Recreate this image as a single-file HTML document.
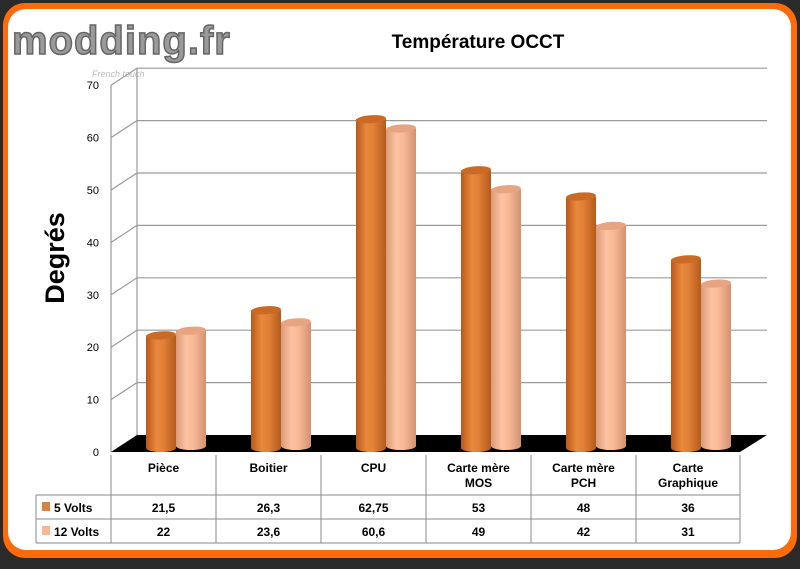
<!DOCTYPE html>
<html><head><meta charset="utf-8">
<style>
html,body{margin:0;padding:0;background:#2a2a2a;}
body{width:800px;height:564px;overflow:hidden;font-family:"Liberation Sans",sans-serif;}
</style></head>
<body>
<svg id="chart" width="800" height="564" xmlns="http://www.w3.org/2000/svg">
<defs>
<linearGradient id="gO" x1="0" x2="1" y1="0" y2="0">
<stop offset="0" stop-color="#b9581a"/><stop offset="0.35" stop-color="#e8893d"/><stop offset="0.6" stop-color="#e07f35"/><stop offset="1" stop-color="#b45a1c"/></linearGradient>
<linearGradient id="gP" x1="0" x2="1" y1="0" y2="0">
<stop offset="0" stop-color="#d99a78"/><stop offset="0.35" stop-color="#fcc3a2"/><stop offset="0.6" stop-color="#f8b895"/><stop offset="1" stop-color="#d3916f"/></linearGradient>
</defs>
<rect x="3" y="3" width="794" height="555" rx="22" fill="#ff6a0a"/>
<rect x="8" y="9" width="783" height="541" rx="18" fill="#ffffff"/>
<text x="12" y="54" font-size="40" font-weight="bold" fill="#9a9a9a" stroke="#666" stroke-width="1.5" font-family="'Liberation Sans',sans-serif" letter-spacing="1">modding.fr</text>
<text x="92" y="77" font-size="9" font-style="italic" fill="#bbb">French touch</text>
<text x="478" y="48" font-size="19" font-weight="bold" text-anchor="middle" fill="#000">Température OCCT</text>
<text transform="translate(64,258) rotate(-90)" font-size="27" font-weight="bold" text-anchor="middle" fill="#000">Degrés</text>
<g id="grid"></g>
<g id="floor"></g>
<g id="bars"></g>
<g id="table"></g>
</svg>
<script>
const categories=["Pièce","Boitier","CPU","Carte mère|MOS","Carte mère|PCH","Carte|Graphique"];
const volts5=[21.5,26.3,62.75,53,48,36];
const volts12=[22,23.6,60.6,49,42,31];
const labels5=["21,5","26,3","62,75","53","48","36"];
const labels12=["22","23,6","60,6","49","42","31"];
const yTicks=[0,10,20,30,40,50,60,70];
const seriesNames=["5 Volts","12 Volts"];

const NS="http://www.w3.org/2000/svg";
const PPU=5.24, Y0=452, DX=26, DY=17;
const yScale=v=>Y0-v*PPU;
const xCenter=i=>163.5+105*i;
function el(t,a,p){const e=document.createElementNS(NS,t);for(const k in a)e.setAttribute(k,a[k]);p.appendChild(e);return e;}

const grid=document.getElementById('grid');
yTicks.forEach(v=>{
  const y=yScale(v);
  if(v>0){
    const g=el('polyline',{points:`111,${y} ${111+DX},${y-DY} 767,${y-DY}`,fill:'none',stroke:'#9a9a9a','stroke-width':1.2},grid);
    
    
  }
  const t=el('text',{x:99,y:y+4,'font-size':11,'text-anchor':'end',fill:'#000'},grid);
  t.textContent=v;
  
  
});
const ax=el('line',{x1:111,y1:yScale(70),x2:111,y2:Y0,stroke:'#9a9a9a','stroke-width':1.2},grid);


const ax2=el('line',{x1:137,y1:yScale(70)-DY,x2:137,y2:Y0-DY,stroke:'#9a9a9a','stroke-width':1.2},grid);



const floor=el('polygon',{points:`111,${Y0} 740,${Y0} 767,${Y0-DY} 137,${Y0-DY}`,fill:'#000'},document.getElementById('floor'));



const bars=document.getElementById('bars');
function cyl(cx,base,v,fill,top,name){
  const g=el('g',{},bars);
  
  
  const r=15, ry=4, yt=base-v*PPU;
  el('path',{d:`M${cx-r},${yt} L${cx-r},${base} A${r},${ry} 0 0 0 ${cx+r},${base} L${cx+r},${yt} Z`,fill:fill},g);
  el('ellipse',{cx:cx,cy:yt,rx:r,ry:ry,fill:top,transform:`rotate(-4 ${cx} ${yt})`},g);
}
categories.forEach((c,i)=>{
  cyl(xCenter(i)-2.5,448,volts5[i],'url(#gO)','#c96a25','bar-5v-'+i);
  cyl(xCenter(i)+27.5,446,volts12[i],'url(#gP)','#e6a482','bar-12v-'+i);
});

const tb=document.getElementById('table');
const cols=[111,216,321,426,531,636,740];
const ln=(x1,y1,x2,y2)=>el('line',{x1,y1,x2,y2,stroke:'#8a8a8a','stroke-width':1},tb);
cols.forEach(x=>ln(x,455,x,543));
ln(36,495,740,495);ln(36,519,740,519);ln(36,543,740,543);ln(36,495,36,543);
categories.forEach((c,i)=>{
  const cx=(cols[i]+cols[i+1])/2;
  c.split('|').forEach((p,j)=>{
    const t=el('text',{x:cx,y:472+j*15,'font-size':12,'font-weight':'bold','text-anchor':'middle'},tb);
    t.textContent=p;
    
    
  });
  [labels5,labels12].forEach((arr,k)=>{
    const t=el('text',{x:cx,y:512+k*24,'font-size':12,'font-weight':'bold','text-anchor':'middle'},tb);
    t.textContent=arr[i];
    
    
  });
});
seriesNames.forEach((n,k)=>{
  const r=el('rect',{x:42,y:502+k*24,width:8,height:9,fill:k?'#f6b794':'#d9823f'},tb);
  
  
  const t=el('text',{x:54,y:512+k*24,'font-size':12,'font-weight':'bold'},tb);
  t.textContent=n;
  
  
});
</script>
</body></html>
